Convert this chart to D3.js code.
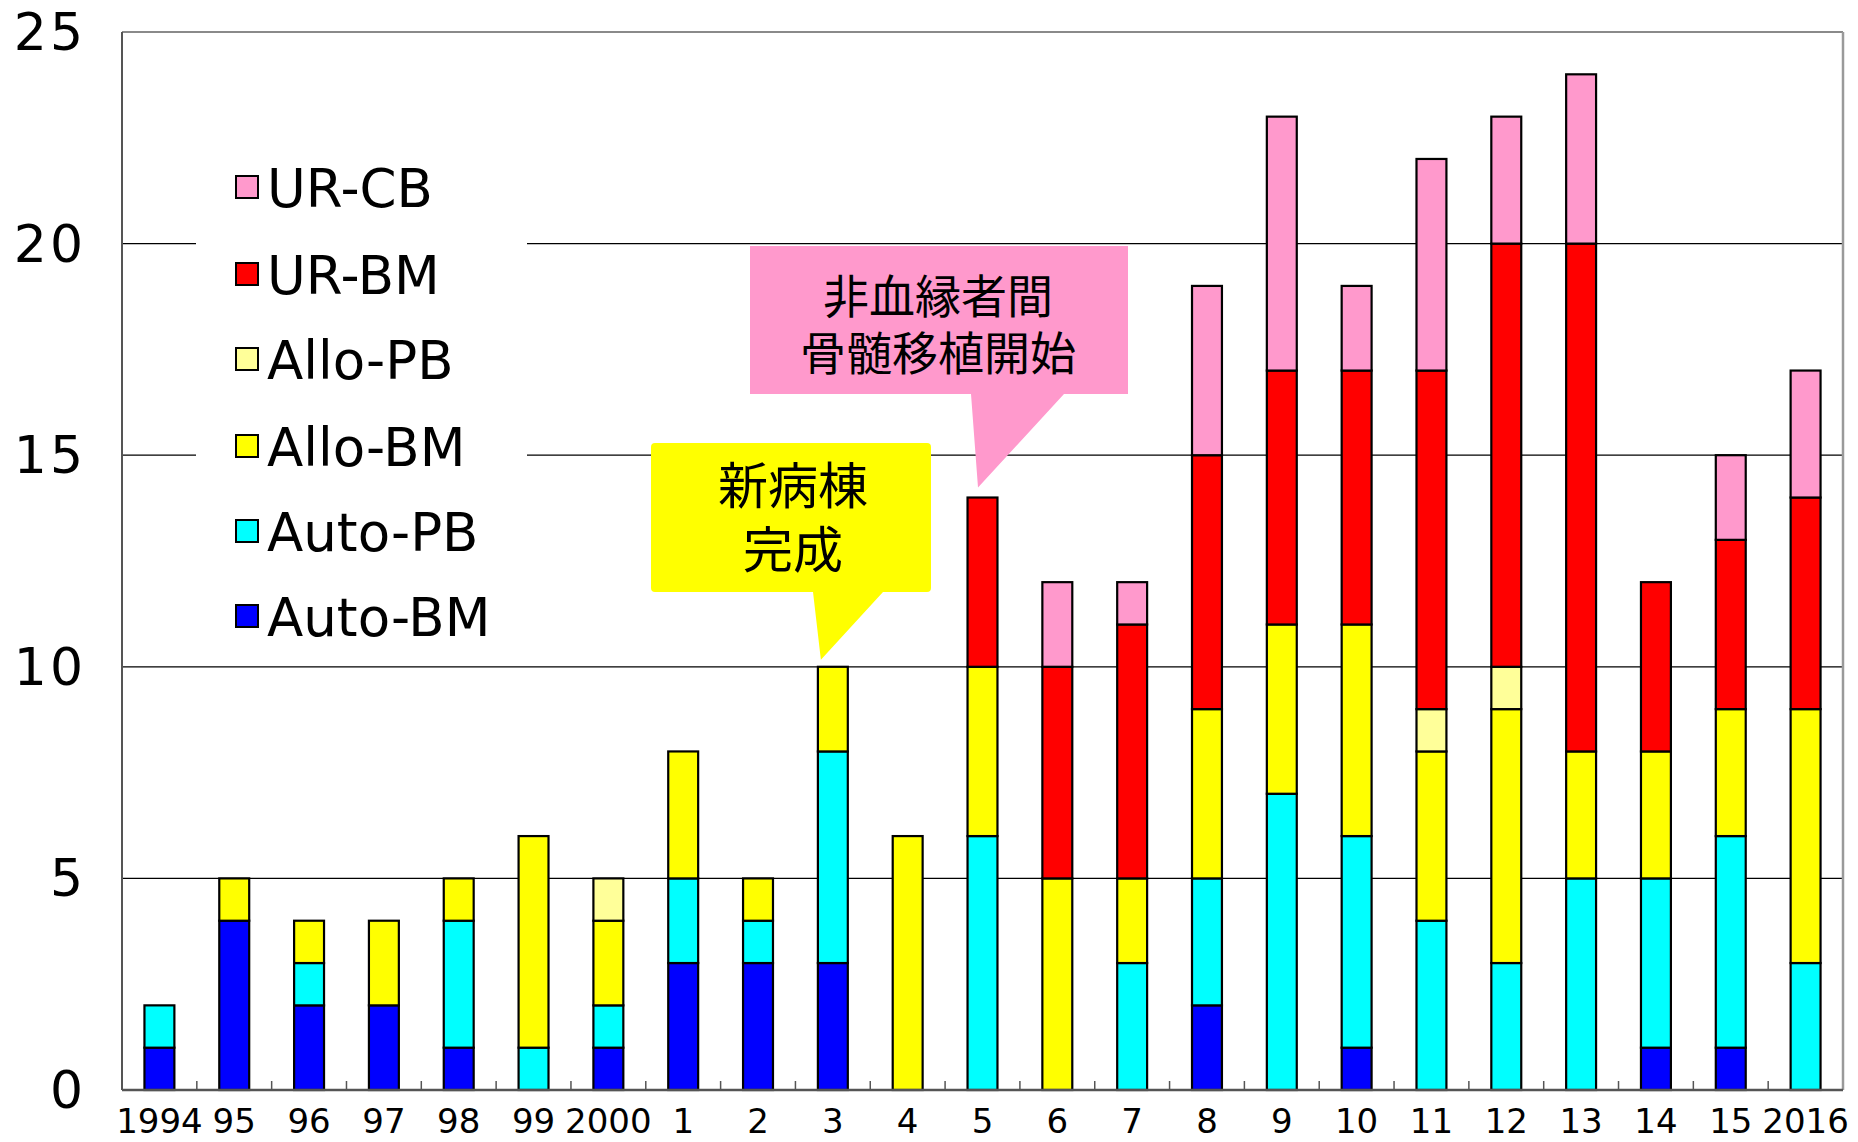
<!DOCTYPE html>
<html><head><meta charset="utf-8">
<script src="https://cdn.jsdelivr.net/npm/d3@7"></script>
<style>html,body{margin:0;padding:0;background:#fff;}svg{display:block;}</style>
</head><body>
<script>
const categories = ["1994","95","96","97","98","99","2000","1","2","3","4","5","6","7","8","9","10","11","12","13","14","15","2016"];
const autoBM = [1,4,2,2,1,0,1,3,3,3,0,0,0,0,2,0,1,0,0,0,1,1,0];
const autoPB = [1,0,1,0,3,1,1,2,1,5,0,6,0,3,3,7,5,4,3,5,4,5,3];
const alloBM = [0,1,1,2,1,5,2,3,1,2,6,4,5,2,4,4,5,4,6,3,3,3,6];
const alloPB = [0,0,0,0,0,0,1,0,0,0,0,0,0,0,0,0,0,1,1,0,0,0,0];
const urBM   = [0,0,0,0,0,0,0,0,0,0,0,4,5,6,6,6,6,8,10,12,4,4,5];
const urCB   = [0,0,0,0,0,0,0,0,0,0,0,0,2,1,4,6,2,5,3,4,0,2,3];
const seriesNames = ["Auto-BM","Auto-PB","Allo-BM","Allo-PB","UR-BM","UR-CB"];
const seriesColors = ["#0000FF","#00FFFF","#FFFF00","#FFFF99","#FF0000","#FF99CC"];
const yTicks = [0,5,10,15,20,25];

const W = 1858, H = 1142;
const L = 122, R = 1843, T = 32, B = 1090;
const svg = d3.select("body").append("svg").attr("width", W).attr("height", H);

const x = d3.scaleBand().domain(categories).range([L, R]).paddingInner(0.6).paddingOuter(0.3);
const y = d3.scaleLinear().domain([0, 25]).range([B, T]);

// gridlines
svg.append("g").selectAll("line").data(yTicks.filter(d => d > 0 && d < 25)).join("line")
  .attr("x1", L).attr("x2", R).attr("y1", d => y(d)).attr("y2", d => y(d))
  .attr("stroke", "#000").attr("stroke-width", 1.2);

// plot border top/right
svg.append("line").attr("x1", L).attr("x2", R).attr("y1", y(25)).attr("y2", y(25)).attr("stroke", "#8a8a8a").attr("stroke-width", 2);
svg.append("line").attr("x1", R).attr("x2", R).attr("y1", T).attr("y2", B).attr("stroke", "#9a9a9a").attr("stroke-width", 2.5);

// legend background (white box covering gridlines)
svg.append("rect").attr("x", 196).attr("y", 140).attr("width", 331).attr("height", 515).attr("fill", "#fff");

// stacked bars
const rows = categories.map((c, i) => ({cat: c, "Auto-BM": autoBM[i], "Auto-PB": autoPB[i], "Allo-BM": alloBM[i], "Allo-PB": alloPB[i], "UR-BM": urBM[i], "UR-CB": urCB[i]}));
const stack = d3.stack().keys(seriesNames)(rows);
const gBars = svg.append("g");
stack.forEach((layer, si) => {
  gBars.append("g").selectAll("rect").data(layer.filter(d => d[1] - d[0] > 0)).join("rect")
    .attr("x", d => x(d.data.cat))
    .attr("width", x.bandwidth())
    .attr("y", d => y(d[1]))
    .attr("height", d => y(d[0]) - y(d[1]))
    .attr("fill", seriesColors[si])
    .attr("stroke", "#000").attr("stroke-width", 2.2);
});

// axes
svg.append("line").attr("x1", L).attr("x2", L).attr("y1", T).attr("y2", B).attr("stroke", "#555").attr("stroke-width", 2);
svg.append("line").attr("x1", L).attr("x2", R).attr("y1", B).attr("y2", B).attr("stroke", "#555").attr("stroke-width", 2.5);
const half = x.step() * x.paddingInner() / 2;
svg.append("g").selectAll("line").data(categories.slice(1)).join("line")
  .attr("x1", d => x(d) - half).attr("x2", d => x(d) - half)
  .attr("y1", B).attr("y2", B - 9).attr("stroke", "#555").attr("stroke-width", 1.5);

// y labels
svg.append("g").selectAll("text").data(yTicks).join("text")
  .attr("x", 86).attr("y", d => y(d)).attr("text-anchor", "end").attr("dominant-baseline", "central")
  .attr("font-family", "DejaVu Sans").attr("font-size", 52).attr("letter-spacing", 3).attr("fill", "#000")
  .text(d => d);

// x labels
svg.append("g").selectAll("text").data(categories).join("text")
  .attr("x", d => x(d) + x.bandwidth() / 2).attr("y", 1121).attr("text-anchor", "middle").attr("dominant-baseline", "central")
  .attr("font-family", "DejaVu Sans").attr("font-size", 34).attr("fill", "#000")
  .text(d => d);

// legend
const legendOrder = ["UR-CB","UR-BM","Allo-PB","Allo-BM","Auto-PB","Auto-BM"];
const legendY = [187, 274, 359, 446, 531, 616];
const lg = svg.append("g");
legendOrder.forEach((name, i) => {
  const ci = seriesNames.indexOf(name);
  lg.append("rect").attr("x", 236).attr("y", legendY[i] - 11).attr("width", 22).attr("height", 22)
    .attr("fill", seriesColors[ci]).attr("stroke", "#000").attr("stroke-width", 2);
  lg.append("text").attr("x", 267).attr("y", legendY[i] + 1).attr("dominant-baseline", "central")
    .attr("font-family", "DejaVu Sans").attr("font-size", 53).attr("fill", "#000").text(name);
});

// callouts
const jp = "'Noto Sans CJK JP', sans-serif";
// pink callout
const pinkTipX = x("5") + x.bandwidth() * 0.35, pinkTipY = y(14) - 10;
svg.append("path")
  .attr("d", `M750,246 H1128 V394 H1064 L${pinkTipX},${pinkTipY} L971,394 H750 Z`)
  .attr("fill", "#FF99CC");
const pt = svg.append("text").attr("text-anchor", "middle")
  .attr("font-family", jp).attr("font-size", 46).attr("fill", "#000");
pt.append("tspan").attr("x", 938).attr("y", 313).text("非血縁者間");
pt.append("tspan").attr("x", 938).attr("y", 370).text("骨髄移植開始");

// yellow callout
const yelTipX = x("3") + x.bandwidth() * 0.1, yelTipY = y(10) - 7;
svg.append("path")
  .attr("d", `M655,443 H927 Q931,443 931,447 V588 Q931,592 927,592 H883 L${yelTipX},${yelTipY} L813,592 H655 Q651,592 651,588 V447 Q651,443 655,443 Z`)
  .attr("fill", "#FFFF00");
const yt = svg.append("text").attr("text-anchor", "middle")
  .attr("font-family", jp).attr("font-size", 50).attr("fill", "#000");
yt.append("tspan").attr("x", 793).attr("y", 504).text("新病棟");
yt.append("tspan").attr("x", 793).attr("y", 568).text("完成");
</script>
</body></html>
